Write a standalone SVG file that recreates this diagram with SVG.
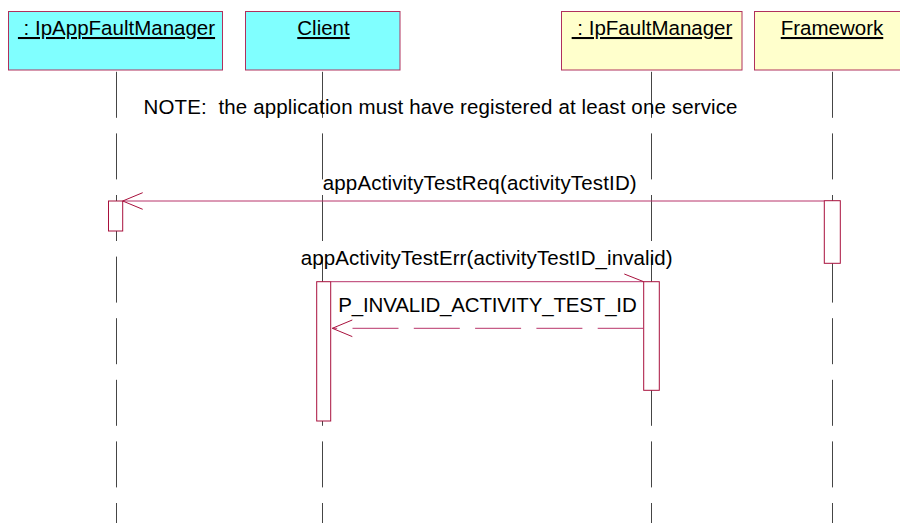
<svg xmlns="http://www.w3.org/2000/svg" width="900" height="523" viewBox="0 0 900 523">
<style>
text{font-family:"Liberation Sans",Arial,sans-serif;font-size:20.5px;fill:#000}
.hdr{text-anchor:middle;text-decoration:underline}
.box{stroke:#b0305c;stroke-width:1}
.cyan{fill:#80ffff}
.yel{fill:#ffffcc}
.life{stroke:#454545;stroke-width:1;stroke-dasharray:46 15.6;fill:none}
.act{fill:#fff;stroke:#a8103c;stroke-width:1}
.msg{stroke:#b8346a;stroke-width:1;fill:none}
.ret{stroke-dasharray:46 15.3}
.head{stroke:#a8103c;stroke-width:1;fill:none}
</style>
<defs>
<marker id="open" markerUnits="userSpaceOnUse" markerWidth="1" markerHeight="1" refX="0" refY="0" orient="auto" overflow="visible">
<path class="head" d="M-20,-8.3 L0,0 L-20,8.3"/>
</marker>
<marker id="half" markerUnits="userSpaceOnUse" markerWidth="1" markerHeight="1" refX="0" refY="0" orient="auto" overflow="visible">
<path class="head" d="M-19.4,-7.7 L0,0"/>
</marker>
</defs>
<rect width="900" height="523" fill="#fff"/>

<g id="IpAppFaultManager">
<line class="life" x1="116.5" y1="71.8" x2="116.5" y2="523"/>
<rect class="box cyan" x="8.5" y="11.5" width="214" height="58.5"/>
<text class="hdr" x="116.5" y="35" xml:space="preserve"> : IpAppFaultManager</text>
<rect class="act" x="108.5" y="201" width="14.2" height="30"/>
</g>

<g id="Client">
<line class="life" x1="322.5" y1="71.8" x2="322.5" y2="523"/>
<rect class="box cyan" x="245.5" y="11.5" width="154.5" height="58.5"/>
<text class="hdr" x="323.5" y="35">Client</text>
<rect class="act" x="316.7" y="281.7" width="14" height="139.3"/>
</g>

<g id="IpFaultManager">
<line class="life" x1="651.5" y1="71.8" x2="651.5" y2="523"/>
<rect class="box yel" x="561.5" y="11.5" width="180.5" height="58.5"/>
<text class="hdr" x="652" y="35" xml:space="preserve"> : IpFaultManager</text>
<rect class="act" x="643.7" y="281.7" width="15.6" height="108.6"/>
</g>

<g id="Framework">
<line class="life" x1="832.5" y1="71.8" x2="832.5" y2="523"/>
<rect class="box yel" x="754.5" y="11.5" width="160" height="58.5"/>
<text class="hdr" x="832" y="35">Framework</text>
<rect class="act" x="824.3" y="200.7" width="16" height="62.6"/>
</g>

<g id="note">
<text x="143.5" y="114" textLength="594" xml:space="preserve">NOTE:  the application must have registered at least one service</text>
</g>

<g id="connectors">
<line class="msg" x1="824.3" y1="201" x2="122.7" y2="201" marker-end="url(#open)"/>
<text x="322.7" y="190" textLength="314">appActivityTestReq(activityTestID)</text>
<line class="msg" x1="330.7" y1="281.7" x2="643.7" y2="281.7" marker-end="url(#half)"/>
<text x="300.7" y="265" textLength="372">appActivityTestErr(activityTestID_invalid)</text>
<line class="msg ret" x1="643.7" y1="328.3" x2="332.3" y2="328.3" marker-end="url(#open)"/>
<text x="338.3" y="311.5" textLength="298.4">P_INVALID_ACTIVITY_TEST_ID</text>
</g>
</svg>
